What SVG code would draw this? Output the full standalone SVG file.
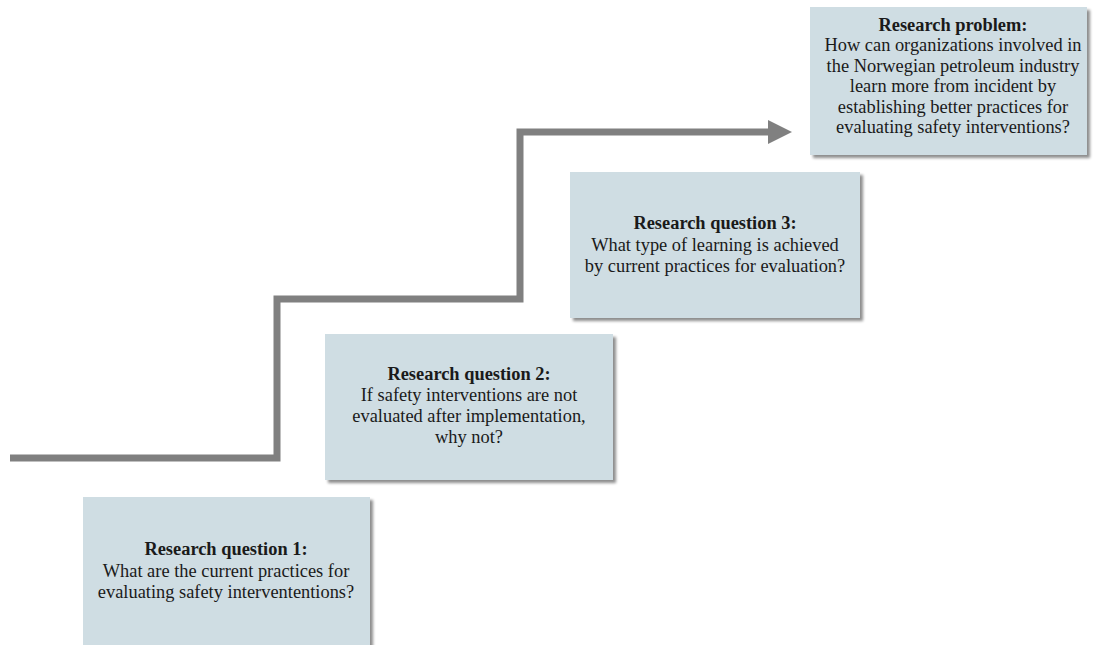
<svg xmlns="http://www.w3.org/2000/svg" width="1094" height="645" viewBox="0 0 1094 645">
  <style>
    .box { fill: #cfdde3; filter: url(#shadow); }
    .t { font-family: "Liberation Serif", "Times New Roman", serif; font-size: 18.4px; fill: #1a1a1a; text-anchor: middle; }
    .h { font-weight: bold; }
    .step { fill: none; stroke: #808080; stroke-width: 7; stroke-linejoin: miter; }
  </style>
  <defs>
    <filter id="shadow" x="-5%" y="-5%" width="115%" height="115%">
      <feGaussianBlur in="SourceAlpha" stdDeviation="1.5"/>
      <feOffset dx="3" dy="3" result="b"/>
      <feComponentTransfer><feFuncA type="linear" slope="0.45"/></feComponentTransfer>
      <feMerge><feMergeNode/><feMergeNode in="SourceGraphic"/></feMerge>
    </filter>
    <marker id="arrow" markerUnits="userSpaceOnUse" markerWidth="26" markerHeight="26" refX="0" refY="12" orient="auto">
      <path d="M0,0 L24,12 L0,24 Z" fill="#808080"/>
    </marker>
  </defs>
  <rect width="1094" height="645" fill="#ffffff"/>

  <g id="connectors">
    <path class="step" d="M10,458 H277 V299 H520 V132 H768" marker-end="url(#arrow)"/>
  </g>

  <g id="rq1">
    <rect class="box" x="83" y="497" width="287" height="150"/>
    <text class="t" x="226" y="555"><tspan class="h">Research question 1:</tspan><tspan x="226" dy="21.5">What are the current practices for</tspan><tspan x="226" dy="21.5">evaluating safety intervententions?</tspan></text>
  </g>

  <g id="rq2">
    <rect class="box" x="325" y="334" width="288" height="146"/>
    <text class="t" x="469" y="380"><tspan class="h">Research question 2:</tspan><tspan x="469" dy="21">If safety interventions are not</tspan><tspan x="469" dy="21">evaluated after implementation,</tspan><tspan x="469" dy="21">why not?</tspan></text>
  </g>

  <g id="rq3">
    <rect class="box" x="570" y="172" width="290" height="146"/>
    <text class="t" x="715" y="229"><tspan class="h">Research question 3:</tspan><tspan x="715" dy="21.5">What type of learning is achieved</tspan><tspan x="715" dy="21.5">by current practices for evaluation?</tspan></text>
  </g>

  <g id="problem">
    <rect class="box" x="810" y="7" width="277" height="148"/>
    <text class="t" x="953" y="31"><tspan class="h">Research problem:</tspan><tspan x="953" dy="20.4">How can organizations involved in</tspan><tspan x="953" dy="20.4">the Norwegian petroleum industry</tspan><tspan x="953" dy="20.4">learn more from incident by</tspan><tspan x="953" dy="20.4">establishing better practices for</tspan><tspan x="953" dy="20.4">evaluating safety interventions?</tspan></text>
  </g>
</svg>
